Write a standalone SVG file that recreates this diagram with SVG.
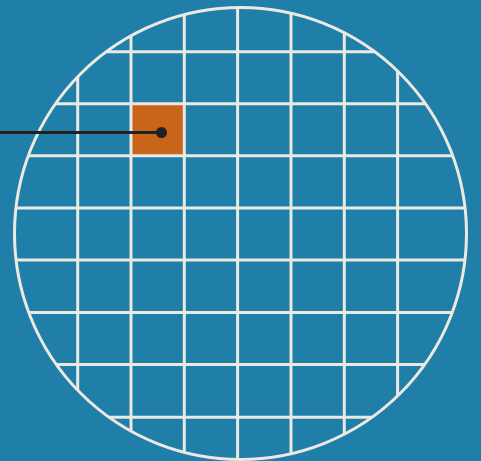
<svg xmlns="http://www.w3.org/2000/svg" width="481" height="461" viewBox="0 0 481 461">
<style>
.grid{stroke:#ece9e3;stroke-width:3;fill:none}
.edge{stroke:#ece9e3;stroke-width:3;fill:none}
.lead{stroke:#222222;stroke-width:3;fill:none}
</style>
<defs>
<clipPath id="wc"><circle cx="240.5" cy="233.5" r="226"/></clipPath>
</defs>
<rect width="481" height="461" fill="#1f7fa9"/>
<g id="wafer">
<g id="die"><rect x="131" y="103.7" width="53.3" height="52" fill="#c9651b"/></g>
<g clip-path="url(#wc)" class="grid">
<path d="M77.7 0V461M131 0V461M184.3 0V461M237.6 0V461M291 0V461M344.3 0V461M397.6 0V461"/>
<path d="M0 51.7H481M0 103.7H481M0 155.7H481M0 207.9H481M0 260.1H481M0 312.5H481M0 364.5H481M0 417.2H481"/>
</g>
<circle class="edge" cx="240.5" cy="233.5" r="226"/>
</g>
<g id="connectors">
<path class="lead" d="M0 132.5H161.5"/>
<circle cx="161.5" cy="132.5" r="5.5" fill="#222222"/>
</g>
</svg>
